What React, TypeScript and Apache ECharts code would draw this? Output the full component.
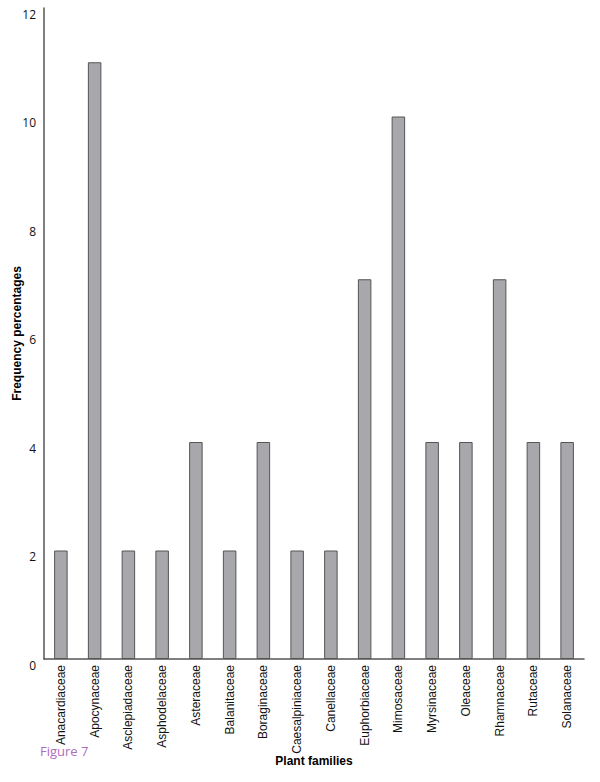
import React, { useEffect, useRef } from "react";
import * as echarts from "echarts";

const categories = [
  "Anacardiaceae",
  "Apocynaceae",
  "Asclepiadaceae",
  "Asphodelaceae",
  "Asteraceae",
  "Balanitaceae",
  "Boraginaceae",
  "Caesalpiniaceae",
  "Canellaceae",
  "Euphorbiaceae",
  "Mimosaceae",
  "Myrsinaceae",
  "Oleaceae",
  "Rhamnaceae",
  "Rutaceae",
  "Solanaceae",
];
const values = [2, 11, 2, 2, 4, 2, 4, 2, 2, 7, 10, 4, 4, 7, 4, 4];

export default function App() {
  const ref = useRef<HTMLDivElement>(null);
  useEffect(() => {
    if (!ref.current) return;
    const chart = echarts.init(ref.current, null, { renderer: "svg" });
    chart.setOption({
      animation: false,
      backgroundColor: "#ffffff",
      grid: { left: 44, right: 16, top: 8, bottom: 123, containLabel: false, outerBoundsMode: "none" },
      xAxis: {
        type: "category",
        data: categories,
        name: "Plant families",
        nameLocation: "middle",
        nameGap: 96,
        nameMoveOverlap: false,
        nameTextStyle: { fontFamily: "Liberation Sans", fontWeight: "bold", fontSize: 12, color: "#000" },
        axisLine: { lineStyle: { color: "#555", width: 1.5 } },
        axisTick: { show: false },
        axisLabel: {
          rotate: 90,
          interval: 0,
          margin: 6,
          fontFamily: "Liberation Sans",
          fontSize: 12,
          color: "#111",
        },
      },
      yAxis: {
        type: "value",
        min: 0,
        max: 12,
        interval: 2,
        name: "Frequency percentages",
        nameLocation: "middle",
        nameGap: 21,
        nameMoveOverlap: false,
        nameTextStyle: { fontFamily: "Liberation Sans", fontWeight: "bold", fontSize: 12, color: "#000" },
        axisLine: { show: true, lineStyle: { color: "#555", width: 1.5 } },
        axisTick: { show: false },
        splitLine: { show: false },
        axisLabel: {
          margin: 8,
          fontFamily: "Open Sans",
          fontSize: 12,
          color: "#111",
          verticalAlign: "top",
          lineHeight: 12,
        },
      },
      series: [
        {
          type: "bar",
          data: values,
          barWidth: "40%",
          itemStyle: { color: "#a8a8ac", borderColor: "#555", borderWidth: 1 },
        },
      ],
      graphic: [
        {
          type: "text",
          left: 40,
          top: 744,
          style: { text: "Figure 7", fill: "#b06cc0", fontSize: 13, fontFamily: "Open Sans" },
        },
      ],
    });
    return () => chart.dispose();
  }, []);
  return <div ref={ref} style={{ position: "absolute", left: 0, top: 0, width: 600, height: 782 }} />;
}
